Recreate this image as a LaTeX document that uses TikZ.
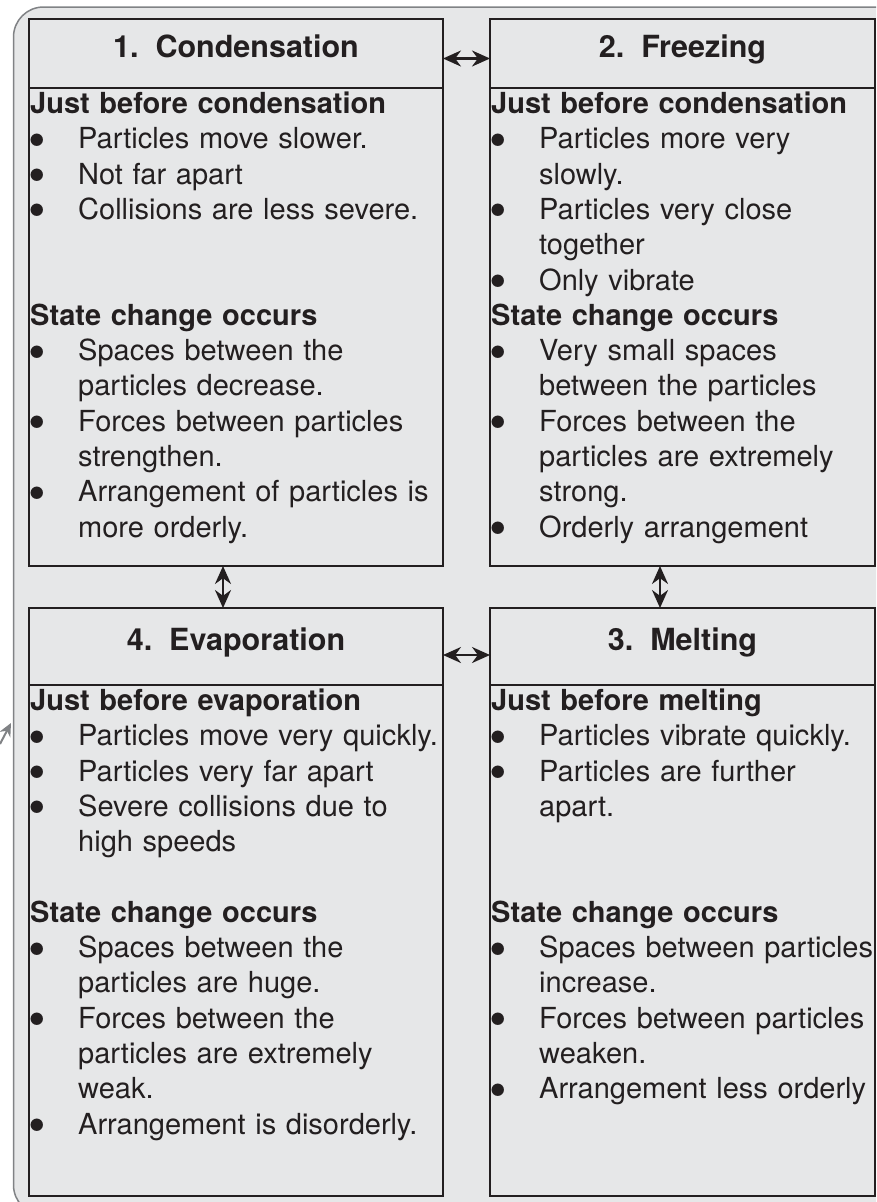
\documentclass[tikz,border=0pt]{standalone}
\usepackage{fontspec}
\setmainfont{TeX Gyre Heros}
\usetikzlibrary{positioning, arrows.meta}
\definecolor{ink}{HTML}{231F20}
\definecolor{panel}{HTML}{E6E7E8}
\definecolor{rim}{HTML}{808285}
\tikzset{%
  panelbox/.style={draw=ink, line width=1.6pt, inner sep=0pt, outer sep=0pt, minimum width=#1}, % one frame of the cycle
  titlebox/.style={panelbox=#1, text=ink, text height=22pt, text depth=15pt,
    font=\bfseries\fontsize{30.5}{36}\selectfont},
  txt/.style={inner sep=0pt, text width=440pt, align=left, text=ink,
    font=\fontsize{29}{35.3}\selectfont},
  twoway/.style={{Stealth[length=18pt,width=16pt]}-{Stealth[length=18pt,width=16pt]},
    draw=ink, line width=2.4pt}
}
\newcommand{\stagehead}[1]{\par\noindent\textbf{#1}}
\newcommand{\stagepoint}[1]{\par\hangindent=48pt\hangafter=1\noindent
  \hbox to 48pt{\hspace{-2pt}\raisebox{-8.5pt}[0pt][0pt]{\fontsize{50}{50}\selectfont\textbullet}\hfil}{\let\\\newline #1}\par}
\newcommand{\stagegap}[1]{\par\vspace{#1\baselineskip}}

\begin{document}
\begin{tikzpicture}[x=1pt, y=-1pt]
    \useasboundingbox (0,0) rectangle (876,1202);
    \clip (0,0) rectangle (876,1202);
    \draw[rim, line width=1.5pt, fill=panel, rounded corners=30pt] (13.5,7) rectangle (910,1215);

    % top row
    \node[titlebox=414pt, minimum height=69pt] (cond) at (236,53.5) {1.\ \ Condensation};
    \node[panelbox=414pt, minimum height=478pt, below=0pt of cond] (condbody) {};
    \node[titlebox=385pt, minimum height=69pt, right=47pt of cond] (freeze) {2.\ \ Freezing};
    \node[panelbox=385pt, minimum height=478pt, below=0pt of freeze] (freezebody) {};

    % bottom row
    \node[titlebox=414pt, minimum height=77pt, below=42pt of condbody] (evap) {4.\ \ Evaporation};
    \node[panelbox=414pt, minimum height=511pt, below=0pt of evap] (evapbody) {};
    \node[titlebox=385pt, minimum height=77pt, right=47pt of evap] (melt) {3.\ \ Melting};
    \node[panelbox=385pt, minimum height=511pt, below=0pt of melt] (meltbody) {};

    \node[txt, below right=-10pt and 1pt of condbody.north west] (condtxt) {%
      \stagehead{Just before condensation}
      \stagepoint{Particles move slower.}
      \stagepoint{Not far apart}
      \stagepoint{Collisions are less severe.}
      \stagegap{2}
      \stagehead{State change occurs}
      \stagepoint{Spaces between the\\particles decrease.}
      \stagepoint{Forces between particles\\strengthen.}
      \stagepoint{Arrangement of particles is\\more orderly.}};

    \node[txt, below right=-10pt and 1pt of freezebody.north west] (freezetxt) {%
      \stagehead{Just before condensation}
      \stagepoint{Particles more very\\slowly.}
      \stagepoint{Particles very close\\together}
      \stagepoint{Only vibrate}
      \stagehead{State change occurs}
      \stagepoint{Very small spaces\\between the particles}
      \stagepoint{Forces between the\\particles are extremely\\strong.}
      \stagepoint{Orderly arrangement}};

    \node[txt, below right=-10pt and 1pt of evapbody.north west] (evaptxt) {%
      \stagehead{Just before evaporation}
      \stagepoint{Particles move very quickly.}
      \stagepoint{Particles very far apart}
      \stagepoint{Severe collisions due to\\high speeds}
      \stagegap{1}
      \stagehead{State change occurs}
      \stagepoint{Spaces between the\\particles are huge.}
      \stagepoint{Forces between the\\particles are extremely\\weak.}
      \stagepoint{Arrangement is disorderly.}};

    \node[txt, below right=-10pt and 1pt of meltbody.north west] (melttxt) {%
      \stagehead{Just before melting}
      \stagepoint{Particles vibrate quickly.}
      \stagepoint{Particles are further\\apart.}
      \stagegap{2}
      \stagehead{State change occurs}
      \stagepoint{Spaces between particles\\increase.}
      \stagepoint{Forces between particles\\weaken.}
      \stagepoint{Arrangement less orderly}};

    \draw[twoway] ([yshift=-5pt]cond.east) -- ([yshift=-5pt]freeze.west);
    \draw[twoway] ([yshift=-8.5pt]evap.east) -- ([yshift=-8.5pt]melt.west);
    \draw[twoway] ([xshift=-13pt]condbody.south) -- ([xshift=-13pt]evap.north);
    \draw[twoway] ([xshift=-22.5pt]freezebody.south) -- ([xshift=-22.5pt]melt.north);

    % piece of the outer loop arrow
    \coordinate (loopend) at (0,744);
    \coordinate (looptip) at (11,723);
    \draw[rim, line width=2pt, -{Stealth[length=13pt,width=12pt]}] (loopend) -- (looptip);
\end{tikzpicture}
\end{document}
